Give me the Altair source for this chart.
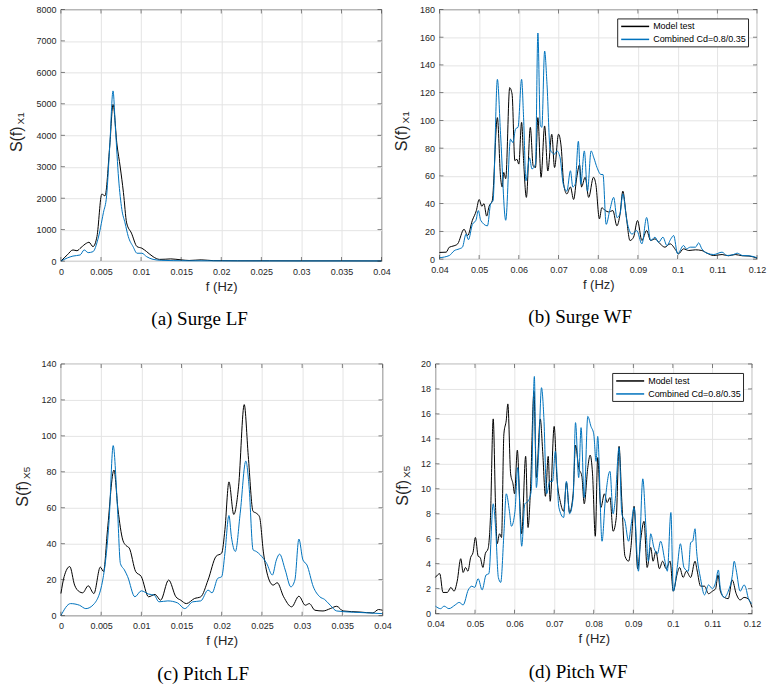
import altair as alt
import pandas as pd

SERIES = ["Model test", "Combined Cd=0.8/0.35"]
COLORS = ["#000000", "#0072BD"]

# ---------- (a) Surge LF ----------
a_f_model = [0, 0.0008, 0.0015, 0.002, 0.0025, 0.0032, 0.0035, 0.004, 0.0045, 0.0051, 0.0055, 0.0061,
             0.0065, 0.007, 0.0074, 0.0078, 0.0082, 0.0088, 0.0095, 0.0101, 0.0107, 0.0115, 0.0123, 0.013,
             0.0137, 0.015, 0.016, 0.0175, 0.019, 0.022, 0.026, 0.03, 0.035, 0.04]
a_s_model = [0, 200, 355, 330, 430, 570, 600, 460, 785, 2130, 2075, 3690,
             4980, 3690, 2990, 2180, 1215, 890, 460, 410, 300, 140, 55, 60,
             70, 40, 20, 40, 15, 10, 10, 8, 8, 5]
a_f_comb = [0, 0.0008, 0.0015, 0.0024, 0.0029, 0.0034, 0.004, 0.0046, 0.0053, 0.0057, 0.0061, 0.0065,
            0.0068, 0.0072, 0.0076, 0.008, 0.0084, 0.009, 0.0095, 0.0101, 0.0107, 0.0115, 0.0125, 0.014,
            0.016, 0.02, 0.025, 0.03, 0.035, 0.04]
a_s_comb = [0, 100, 160, 195, 355, 270, 300, 680, 1540, 2075, 3690, 5410,
            4230, 2610, 1645, 1215, 785, 460, 250, 250, 140, 55, 25, 15,
            10, 8, 6, 5, 5, 5]

# ---------- (b) Surge WF ----------
b_f_model = [0.040, 0.0417, 0.0425, 0.0437, 0.0446, 0.0462, 0.0471, 0.0483, 0.0493, 0.0500, 0.0507, 0.0512,
             0.0519, 0.0525, 0.0533, 0.0546, 0.0554, 0.0558, 0.0562, 0.0567, 0.0577, 0.0583, 0.0590, 0.0595,
             0.0600, 0.0607, 0.0612, 0.0619, 0.0629, 0.0636, 0.0642, 0.0648, 0.0656, 0.0665, 0.0673, 0.0683,
             0.0690, 0.0700, 0.0707, 0.0713, 0.0721, 0.0730, 0.0738, 0.0746, 0.0753, 0.0758, 0.0767, 0.0776,
             0.0788, 0.0794, 0.0803, 0.0809, 0.0818, 0.0826, 0.0837, 0.0847, 0.0855, 0.0862, 0.0870, 0.0880,
             0.0889, 0.0899, 0.0910, 0.0922, 0.0932, 0.0943, 0.0956, 0.0968, 0.0981, 0.0996, 0.1002, 0.1015,
             0.1028, 0.1045, 0.1061, 0.1074, 0.1091, 0.1112, 0.1128, 0.1145, 0.1163, 0.1180, 0.1200]
b_s_model = [4.8, 5, 8.6, 9.6, 11, 21.5, 17, 28, 35, 43, 38, 40,
             31, 38, 42, 102, 59, 52, 62.5, 58, 123.6, 119, 71, 72,
             68.5, 98.6, 71, 44.5, 95, 67.5, 66, 102, 59, 96, 63.5, 90,
             66, 90, 80, 54, 47, 52, 43, 59, 68, 52, 59, 44.5,
             59, 54, 29, 37, 35, 34, 35, 24, 32.6, 49, 32.6, 13.4,
             15.8, 27.8, 13.4, 20.6, 13.4, 14.6, 11, 8.6, 11, 6.2, 3.8, 7.4,
             6.2, 6.7, 6.2, 4.3, 2.6, 3.3, 2.4, 3.3, 2.4, 2.2, 0.7]
b_f_comb = [0.040, 0.0425, 0.0437, 0.0450, 0.0458, 0.0467, 0.0473, 0.0483, 0.0492, 0.0498, 0.0504, 0.0521,
            0.0529, 0.0535, 0.0546, 0.0554, 0.0567, 0.0579, 0.0585, 0.0592, 0.0598, 0.0607, 0.0612, 0.0618,
            0.0627, 0.0633, 0.0642, 0.0648, 0.0654, 0.0658, 0.0665, 0.0671, 0.0679, 0.0690, 0.0696, 0.0704,
            0.0712, 0.0721, 0.0730, 0.0736, 0.0742, 0.0750, 0.0756, 0.0765, 0.0773, 0.0782, 0.0789, 0.0797,
            0.0807, 0.0812, 0.0820, 0.0829, 0.0839, 0.0847, 0.0855, 0.0862, 0.0872, 0.0885, 0.0897, 0.0910,
            0.0922, 0.0932, 0.0943, 0.0952, 0.0963, 0.0973, 0.0983, 0.0990, 0.1000, 0.1015, 0.1022, 0.1032,
            0.1045, 0.1053, 0.1061, 0.1074, 0.1091, 0.1112, 0.1124, 0.1141, 0.1150, 0.1163, 0.1180, 0.1200]
b_s_comb = [1, 2.6, 6, 7.4, 8.6, 18, 14, 25, 28, 35, 28, 24,
            40, 42, 129.6, 90, 28, 86.5, 84, 94, 95, 129.6, 102, 56.5,
            73, 65, 68.5, 163, 97, 95, 150, 126, 79, 75.7, 78, 73,
            54, 49, 63.7, 52, 54, 85, 54, 78, 49, 78, 73, 66,
            61, 61, 25, 35, 44.5, 30, 32.6, 47, 27.8, 18, 20.6, 11,
            30, 13.4, 15.8, 12, 15.8, 9.8, 14.6, 17, 3.8, 9.8, 7.4, 8.6,
            8.6, 11.7, 7.4, 4.3, 3.3, 5, 2.6, 3.3, 4.3, 2.6, 2.4, 1]

# ---------- (c) Pitch LF ----------
c_f_model = [0, 0.0004, 0.0011, 0.0017, 0.0023, 0.0027, 0.0034, 0.0041, 0.0049, 0.0053, 0.0058, 0.0066,
             0.0071, 0.0077, 0.0081, 0.0085, 0.0093, 0.0100, 0.0109, 0.0117, 0.0124, 0.0134, 0.0143, 0.0149,
             0.0156, 0.0166, 0.0174, 0.0183, 0.0193, 0.0200, 0.0204, 0.0209, 0.0215, 0.0221, 0.0228, 0.0233,
             0.0239, 0.0243, 0.0247, 0.0252, 0.0259, 0.0264, 0.0269, 0.0277, 0.0287, 0.0296, 0.0304, 0.0309,
             0.0316, 0.0326, 0.0335, 0.0343, 0.0351, 0.0372, 0.0388, 0.0395, 0.0400]
c_s_model = [12.3, 21.7, 27.3, 17, 13.3, 12.7, 16.6, 12.3, 27, 24.5, 48, 81,
             59, 42, 39, 37.6, 24.5, 21.7, 10.5, 11.8, 8.6, 19.8, 10.5, 8.6,
             6.7, 9.5, 10.5, 19.8, 33, 34.8, 47.9, 74.4, 56.3, 72, 117.4, 89,
             58, 57, 55, 34.8, 19.8, 17, 18.3, 10.5, 4.9, 10.8, 5.8, 6.7,
             3, 2.6, 3.9, 5.2, 2.6, 2, 1.5, 3.4, 3]
c_f_comb = [0, 0.0012, 0.0023, 0.0031, 0.0041, 0.0052, 0.0060, 0.0065, 0.0070, 0.0074, 0.0079, 0.0083,
            0.0092, 0.0100, 0.0109, 0.0116, 0.0122, 0.0133, 0.0145, 0.0154, 0.0164, 0.0174, 0.0183, 0.0188,
            0.0195, 0.0200, 0.0204, 0.0209, 0.0212, 0.0217, 0.0223, 0.0230, 0.0234, 0.0239, 0.0243, 0.0248,
            0.0256, 0.0263, 0.0268, 0.0272, 0.0279, 0.0286, 0.0291, 0.0296, 0.0301, 0.0306, 0.0314, 0.0322,
            0.0328, 0.0335, 0.0343, 0.0364, 0.0384, 0.0400]
c_s_comb = [0, 6.7, 5.8, 3.9, 6.4, 19.8, 53.5, 94.6, 63, 29, 25.4, 21.7,
            10.5, 13.8, 12, 11.4, 7.7, 8.2, 7.1, 3.9, 7.7, 8.2, 14.2, 12.7,
            20.7, 21.7, 34.8, 55.7, 44, 35.7, 57, 86, 72, 36.6, 35.7, 33.8,
            29, 22.6, 31, 34.2, 25.4, 16, 19.8, 42.6, 31, 28.2, 16, 10.5,
            9, 5.8, 2.6, 1.9, 1.5, 1.1]

# ---------- (d) Pitch WF ----------
d_f_model = [0.0400, 0.0411, 0.0419, 0.0430, 0.0439, 0.0447, 0.0455, 0.0464, 0.0470, 0.0476, 0.0482, 0.0489,
             0.0495, 0.0501, 0.0508, 0.0513, 0.0520, 0.0526, 0.0533, 0.0539, 0.0546, 0.0552, 0.0556, 0.0562,
             0.0567, 0.0573, 0.0579, 0.0583, 0.0590, 0.0596, 0.0600, 0.0607, 0.0613, 0.0618, 0.0628, 0.0634,
             0.0640, 0.0649, 0.0655, 0.0665, 0.0671, 0.0678, 0.0685, 0.0690, 0.0700, 0.0707, 0.0716, 0.0724,
             0.0731, 0.0739, 0.0748, 0.0754, 0.0762, 0.0770, 0.0776, 0.0785, 0.0791, 0.0797, 0.0804, 0.0810,
             0.0818, 0.0827, 0.0834, 0.0841, 0.0849, 0.0857, 0.0864, 0.0871, 0.0879, 0.0888, 0.0894, 0.0902,
             0.0911, 0.0919, 0.0927, 0.0935, 0.0944, 0.0950, 0.0957, 0.0966, 0.0974, 0.0983, 0.0993, 0.1001,
             0.1011, 0.1017, 0.1026, 0.1034, 0.1045, 0.1056, 0.1061, 0.1070, 0.1080, 0.1090, 0.1100, 0.1108,
             0.1114, 0.1120, 0.1130, 0.1140, 0.1150, 0.1160, 0.1170, 0.1180, 0.1190, 0.1200]
d_s_model = [2.9, 3.2, 1.7, 1.7, 2.1, 1.8, 2.6, 4.4, 3.3, 3.7, 3.4, 4.5,
             4.9, 6.1, 4.6, 4.5, 3.7, 4.8, 5.2, 7.7, 15.6, 8.5, 5.6, 6.4,
             6.1, 14.4, 15.5, 16.8, 11.2, 10.4, 9.6, 13.1, 9, 6.4, 12.6, 6.9,
             9.8, 17.8, 10.9, 15.6, 13, 9.4, 12.6, 9, 15, 10.9, 8.9, 8.2,
             10.5, 8.1, 9.6, 13.5, 11.7, 11, 8.8, 11.7, 12.7, 11.2, 6.2, 12.5,
             8.5, 9.6, 8.9, 9.3, 6.6, 7.7, 13.4, 9, 4.6, 4.2, 5.3, 8.6,
             3.6, 6, 7.4, 3.7, 5.3, 4.2, 5, 3.6, 4.2, 3.6, 4.2, 1.8,
             3.2, 3.7, 2.9, 3.4, 2.9, 4.2, 3.5, 2.2, 2.2, 1.6, 1.8, 2.0,
             3.1, 1.8, 1.3, 1.2, 2.7, 1.6, 1.1, 1.3, 1.2, 0.5]
d_f_comb = [0.0400, 0.0413, 0.0422, 0.0434, 0.0450, 0.0460, 0.0470, 0.0483, 0.0492, 0.0499, 0.0508, 0.0518,
            0.0528, 0.0535, 0.0546, 0.0552, 0.0559, 0.0565, 0.0573, 0.0579, 0.0587, 0.0592, 0.0601, 0.0608,
            0.0618, 0.0626, 0.0634, 0.0642, 0.0650, 0.0655, 0.0661, 0.0668, 0.0674, 0.0681, 0.0689, 0.0696,
            0.0703, 0.0712, 0.0724, 0.0731, 0.0739, 0.0748, 0.0754, 0.0762, 0.0768, 0.0776, 0.0785, 0.0793,
            0.0800, 0.0806, 0.0810, 0.0821, 0.0829, 0.0841, 0.0849, 0.0854, 0.0864, 0.0871, 0.0879, 0.0888,
            0.0895, 0.0902, 0.0913, 0.0924, 0.0932, 0.0938, 0.0944, 0.0952, 0.0961, 0.0969, 0.0980, 0.0986,
            0.0995, 0.1001, 0.1011, 0.1019, 0.1028, 0.1039, 0.1045, 0.1050, 0.1056, 0.1060, 0.1070, 0.1080,
            0.1090, 0.1100, 0.1108, 0.1115, 0.1120, 0.1130, 0.1140, 0.1150, 0.1155, 0.1160, 0.1170, 0.1180,
            0.1185, 0.1190, 0.1200]
d_s_comb = [0.6, 0.4, 0.6, 0.4, 0.7, 0.9, 0.7, 1.9, 2.2, 2.1, 2.8, 1.9,
            3.1, 3.2, 8.8, 6.9, 2.9, 2.5, 6.4, 9.6, 8.2, 7, 8.2, 11.7,
            5.4, 8.8, 9, 9.8, 19, 10.1, 13, 18.1, 15.7, 9.6, 10.6, 10.6,
            13, 8.5, 7.7, 10.6, 8, 9.3, 15.3, 10.9, 14.9, 9.3, 15.8, 15,
            14.4, 12.2, 14.2, 5.8, 9, 11.4, 8, 9, 13.3, 8, 7.4, 5.8,
            7.2, 8.5, 3.4, 10.8, 6.9, 4.2, 6.4, 5.3, 4.8, 5.8, 4.2, 3.4,
            8.1, 1.8, 3.7, 5.6, 3.7, 3.4, 5.7, 5.8, 6.8, 5, 2.8, 1.5,
            2.3, 2, 2.5, 3.5, 2, 1.3, 1.8, 3, 4.2, 3.5, 1.8, 2.3,
            2, 1.3, 0.8]

# ---------- axis ticks / labels ----------
lf_x_ticks = [0, 0.005, 0.01, 0.015, 0.02, 0.025, 0.03, 0.035, 0.04]
wf_x_ticks = [0.04, 0.05, 0.06, 0.07, 0.08, 0.09, 0.1, 0.11, 0.12]
a_y_ticks = [0, 1000, 2000, 3000, 4000, 5000, 6000, 7000, 8000]
b_y_ticks = [0, 20, 40, 60, 80, 100, 120, 140, 160, 180]
c_y_ticks = [0, 20, 40, 60, 80, 100, 120, 140]
d_y_ticks = [0, 2, 4, 6, 8, 10, 12, 14, 16, 18, 20]
captions = ["(a) Surge LF", "(b) Surge WF", "(c) Pitch LF", "(d) Pitch WF"]
subscripts = ["X1", "X1", "X5", "X5"]

for fa, sa in [(a_f_model, a_s_model), (a_f_comb, a_s_comb), (b_f_model, b_s_model), (b_f_comb, b_s_comb),
               (c_f_model, c_s_model), (c_f_comb, c_s_comb), (d_f_model, d_s_model), (d_f_comb, d_s_comb)]:
    assert len(fa) == len(sa), (len(fa), len(sa))

SANS = "Liberation Sans"
FRAME = "#262626"
TICK_LEN = 4


def panel(fm, sm, fc, sc, xdom, xticks, ymax, yticks, sub, caption, legend, dx, w, h):
    df = pd.concat([
        pd.DataFrame({"f": fm, "S": sm, "series": SERIES[0]}),
        pd.DataFrame({"f": fc, "S": sc, "series": SERIES[1]}),
    ], ignore_index=True)
    x = alt.X("f:Q", scale=alt.Scale(domain=xdom, nice=False, zero=False),
              axis=alt.Axis(values=xticks, format="~g", title="f (Hz)", labelFlush=False,
                            ticks=False, domain=False, labelPadding=6, titlePadding=4))
    y = alt.Y("S:Q", scale=alt.Scale(domain=[0, ymax], nice=False),
              axis=alt.Axis(values=yticks, format="d", title=None, labelFlush=False,
                            ticks=False, domain=False, labelPadding=5))
    if legend:
        leg = alt.Legend(title=None, orient="top-right", offset=9, fillColor="white",
                         strokeColor=FRAME, padding=2, symbolType="M-0.8,0L4.8,0", symbolSize=100,
                         symbolStrokeWidth=1.5, labelFontSize=9, labelFont=SANS, labelColor="#000000",
                         rowPadding=2, labelOffset=22, cornerRadius=0)
    else:
        leg = None
    color = alt.Color("series:N", scale=alt.Scale(domain=SERIES, range=COLORS), legend=leg)
    base = alt.Chart(df)
    l_model = base.transform_filter(alt.datum.series == SERIES[0]).mark_line(
        strokeWidth=1, interpolate="monotone").encode(x=x, y=y, color=color)
    l_comb = base.transform_filter(alt.datum.series == SERIES[1]).mark_line(
        strokeWidth=1, interpolate="monotone").encode(x=x, y=y, color=color)

    # inward ticks on all four sides of the box, at the tick values
    xt = alt.Chart(pd.DataFrame({"f": xticks}))
    yt = alt.Chart(pd.DataFrame({"S": yticks}))
    tk = dict(size=TICK_LEN, thickness=0.8, color=FRAME)
    t_bottom = xt.mark_tick(orient="vertical", **tk).encode(x=x, y=alt.value(h - TICK_LEN / 2))
    t_top = xt.mark_tick(orient="vertical", **tk).encode(x=x, y=alt.value(TICK_LEN / 2))
    t_left = yt.mark_tick(orient="horizontal", **tk).encode(y=y, x=alt.value(TICK_LEN / 2))
    t_right = yt.mark_tick(orient="horizontal", **tk).encode(y=y, x=alt.value(w - TICK_LEN / 2))

    t_main = alt.Chart(pd.DataFrame({"t": ["S(f)"]})).mark_text(
        angle=270, font=SANS, fontSize=16, color=FRAME, align="center", baseline="middle"
    ).encode(x=alt.value(dx), y=alt.value(h / 2 + 4), text="t:N")
    t_sub = alt.Chart(pd.DataFrame({"t": [sub]})).mark_text(
        angle=270, font=SANS, fontSize=10, color=FRAME, align="center", baseline="middle"
    ).encode(x=alt.value(dx + 4), y=alt.value(h / 2 - 17), text="t:N")
    return alt.layer(l_model, l_comb, t_bottom, t_top, t_left, t_right, t_main, t_sub).properties(
        width=w, height=h,
        title=alt.TitleParams(caption, orient="bottom", anchor="middle", frame="bounds", offset=17,
                              font="Liberation Serif", fontSize=19, fontWeight="normal", color="#000000"))


pa = panel(a_f_model, a_s_model, a_f_comb, a_s_comb, [0, 0.04], lf_x_ticks, 8000, a_y_ticks,
           subscripts[0], captions[0], False, -44, 321, 252)
pb = panel(b_f_model, b_s_model, b_f_comb, b_s_comb, [0.04, 0.12], wf_x_ticks, 180, b_y_ticks,
           subscripts[1], captions[1], True, -37, 318, 250)
pc = panel(c_f_model, c_s_model, c_f_comb, c_s_comb, [0, 0.04], lf_x_ticks, 140, c_y_ticks,
           subscripts[2], captions[2], False, -38, 322, 252)
pd_ = panel(d_f_model, d_s_model, d_f_comb, d_s_comb, [0.04, 0.12], wf_x_ticks, 20, d_y_ticks,
            subscripts[3], captions[3], True, -32, 317, 250)

row1 = alt.hconcat(pa, pb, spacing=2).resolve_scale(color="independent")
row2 = alt.hconcat(pc, pd_, spacing=2).resolve_scale(color="independent")

chart = alt.vconcat(row1, row2, spacing=29).resolve_scale(color="independent").properties(
    padding={"left": 8, "top": 4, "right": 0, "bottom": 0},
    background="white",
).configure_axis(
    labelFont=SANS, titleFont=SANS, labelFontSize=9, titleFontSize=13,
    labelColor=FRAME, titleColor=FRAME, titleFontWeight="normal",
    gridColor="#e4e4e4", gridWidth=1,
).configure_view(
    stroke=FRAME, strokeWidth=0.8,
)

chart.save("out.html", embed_options={"renderer": "svg", "actions": False})
